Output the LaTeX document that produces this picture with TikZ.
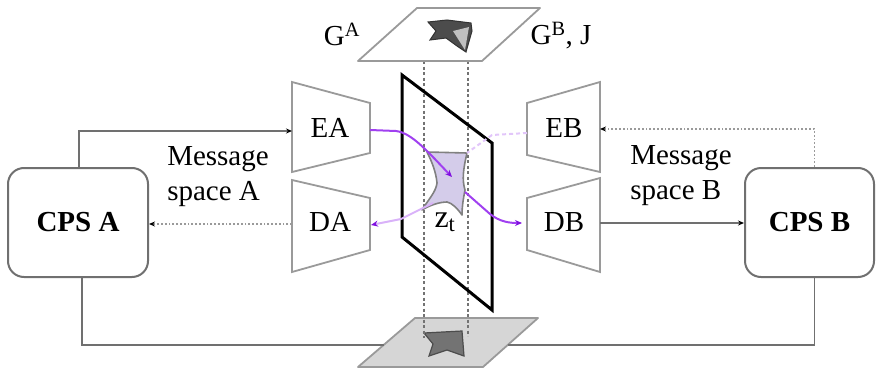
\documentclass[tikz,border=0pt]{standalone}
\usepackage{fontspec}
\setmainfont{Liberation Serif}
\usetikzlibrary{arrows.meta}
\definecolor{lgray}{HTML}{9A9A9A}
\definecolor{dgray}{HTML}{707070}
\definecolor{vio}{HTML}{A040F0}
\definecolor{dvio}{HTML}{8010E0}
\definecolor{lav}{HTML}{D4CCEA}
\begin{document}
\begin{tikzpicture}[x=1pt,y=-1pt,
  font=\fontsize{29}{35}\selectfont,
  conn/.style={draw=dgray, line width=1.8pt},
  tip/.style={-{Stealth[length=6pt,width=5pt,color=black]}},
  ptip/.style={-{Stealth[length=7pt,width=6pt,color=dvio]}},
  cpsbox/.style={draw=dgray, line width=2pt, rounded corners=16pt, inner sep=0pt},
  trap/.style={draw=lgray, line width=1.8pt, fill=white, line join=miter},
  plane/.style={draw=lgray, line width=1.8pt, line join=round},
  proj/.style={draw=black!55, line width=2.6pt, dash pattern=on 3pt off 2.5pt},
  lbl/.style={inner sep=0pt}]
\useasboundingbox (0,0) rectangle (877,369);

% bottom plane
\draw[plane, fill=black!16] (415,318) -- (538,318) -- (483,367) -- (358,367) -- cycle;
\draw[draw=black!70, line width=1.2pt, fill=black!55] (424,333) -- (462,331) -- (464,356) -- (447,350) -- (429,356) -- (433,344) -- cycle;

% CPS boxes
\node[cpsbox, minimum width=140pt, minimum height=109pt] (cpsA) at (78,222.5) {\textbf{CPS A}};
\node[cpsbox, minimum width=129pt, minimum height=109pt] (cpsB) at (809.5,222.5) {\textbf{CPS B}};

% encoders / decoders
\draw[trap] (292,82) -- (370,103) -- (370,153) -- (292,172) -- cycle;
\draw[trap] (292,180) -- (370,198) -- (370,250) -- (292,272) -- cycle;
\draw[trap] (527,103) -- (600,82) -- (600,172) -- (527,155) -- cycle;
\draw[trap] (527,198) -- (600,178) -- (600,272) -- (527,250) -- cycle;
\node[lbl] (EA) at (330,128) {EA};
\node[lbl] (DA) at (330,222) {DA};
\node[lbl] (EB) at (564,128) {EB};
\node[lbl] (DB) at (564,222) {DB};

\coordinate (EAin) at (292,131);
\coordinate (DAout) at (292,224);
\coordinate (EBin) at (600,129);
\coordinate (DBout) at (600,223);
\coordinate (EAout) at (370,130);
\coordinate (DAin) at (371,225);
\coordinate (EBout) at (527,133);
\coordinate (DBin) at (522,223);
\coordinate (pl) at (384,345);
\coordinate (pr) at (508,345);

% connectors between CPS and encoders/decoders
\draw[conn, tip] ([xshift=1pt]cpsA.north) |- (EAin);
\draw[conn, draw=lgray, dotted, tip] (DAout) -- (cpsA.east |- DAout);
\draw[conn, draw=lgray, dotted, tip] ([xshift=5pt]cpsB.north) |- (EBin);
\draw[conn, tip] (DBout) -- (cpsB.west |- DBout);
\draw[conn] ([xshift=4pt]cpsA.south) |- (pl);
\draw[conn] ([xshift=5pt]cpsB.south) |- (pr);

% projection lines
\draw[proj] (424,61) -- (424,338);
\draw[proj] (468,61) -- (468,336);

% central latent plane
\draw[black, line width=3pt, line join=miter] (402,75) -- (492,143) -- (492,310) -- (402,237) -- cycle;

% latent shape
\draw[draw=gray, line width=1.6pt, fill=lav, line join=round]
  (427,152) -- (467,153) .. controls (463,170) and (462,180) .. (465,190)
  .. controls (463,200) and (462,208) .. (462,215)
  .. controls (457,208) and (452,203) .. (447,202)
  .. controls (440,202) and (430,205) .. (422,210)
  .. controls (428,200) and (436,192) .. (437,183)
  .. controls (436,172) and (432,162) .. cycle;
\coordinate (zc) at (452,177);
\coordinate (zr) at (465,192);
\coordinate (zl) at (433,203);
\coordinate (zt) at (467,153);
\node[lbl, font=\fontsize{32}{36}\selectfont] (zlab) at (445,222) {z\textsubscript{t}};

% purple flows
\draw[vio, line width=2pt, ptip] (EAout) -- (396,131) .. controls (412,133) and (428,152) .. (zc);
\draw[vio, line width=2pt, ptip] (zr) -- (490,214) .. controls (500,222) and (510,223) .. (DBin);
\draw[vio!40, line width=2pt, ptip] (zl) -- (401,219) -- (DAin);
\draw[vio!30, line width=2pt, dash pattern=on 4pt off 3pt] (EBout) -- (492,135) -- (zt);

% top plane
\draw[plane, fill=white] (417,8) -- (540,8) -- (482,61) -- (358,61) -- cycle;
\draw[draw=black!80, line width=1pt, fill=black!70] (428,22) -- (447,20) -- (471,23) -- (472,31) -- (466,52) -- (457,46) -- (446,38) -- (430,40) -- (436,31) -- cycle;
\fill[black!25] (453,31) -- (469,27) -- (465,50) -- cycle;

% labels
\node[lbl] (GA) at (342,34) {G\textsuperscript{A}};
\node[lbl] (GB) at (561,36) {G\textsuperscript{B}, J};
\node[lbl, align=left] (msgA) at (218,177) {Message\\space A};
\node[lbl, align=left] (msgB) at (681,176) {Message\\space B};
\end{tikzpicture}
\end{document}
